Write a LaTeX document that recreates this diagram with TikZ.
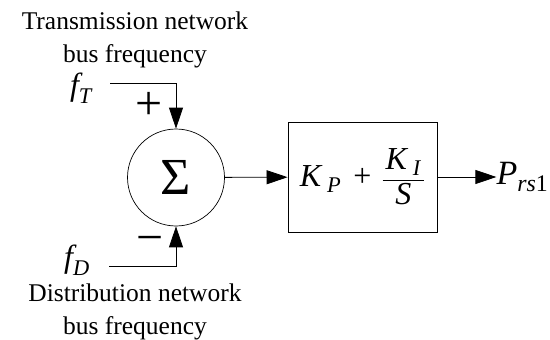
\documentclass[tikz,border=0pt]{standalone}
\usepackage{amsmath}
\usepackage{fontspec}
\setmainfont{Liberation Serif}
\usepackage{tikz}
\usetikzlibrary{arrows.meta,positioning}

\begin{document}
\begin{tikzpicture}[x=1pt,y=-1pt,
  a/.style={-{Triangle[length=21pt,width=14pt]},line width=0.8pt},
  lbl/.style={align=center,font=\fontsize{25.5}{33}\selectfont},
  sig/.style={font=\fontsize{32}{34}\selectfont,inner sep=0pt},
  sumc/.style={draw,circle,minimum size=97pt,inner sep=0pt,line width=0.7pt},
  pi/.style={draw,minimum width=149pt,minimum height=110pt,inner sep=0pt,line width=0.8pt},
  sgn/.style={font=\fontsize{48}{48}\selectfont,inner sep=0pt}]
  \useasboundingbox (0,0) rectangle (550,340);
  \node[sumc] (sum) at (176,177.5) {\fontsize{52}{52}\selectfont Σ};
  \node[pi] (ctrl) at (362.5,177) {\fontsize{32}{36}\selectfont
    $\textit{K}_{\hspace{6pt}\textit{P}}\hspace{12pt}\textup{+}\hspace{10pt}\dfrac{\hspace{3pt}\textit{K}_{\hspace{6pt}\textit{I}}\hspace{3pt}}{\textit{S}}$};
  \node[sig] (fT) at (81,88) {$\textit{f}_{\textit{T}}$};
  \node[sig] (fD) at (77,260) {$\textit{f}_{\textit{D}}$};
  \coordinate (fTin) at (110,83);
  \coordinate (fDin) at (109,266);
  \node[sig,right=59pt of ctrl.east,font=\fontsize{34}{36}\selectfont] (out) {$\textit{P}_{\textit{rs}\textup{1}}$};
  \node[lbl] (tin) at (135,40) {Transmission network\\bus frequency};
  \node[lbl] (din) at (135,312) {Distribution network\\bus frequency};
  \node[sgn] (plus) at (149,106) {+};
  \node[sgn] (minus) at (150,245) {−};
  \draw[a] (fTin) -| (sum.north);
  \draw[a] (fDin) -| (sum.south);
  \draw[a] (sum) -- (ctrl);
  \draw[a] (ctrl) -- (out);
\end{tikzpicture}
\end{document}
